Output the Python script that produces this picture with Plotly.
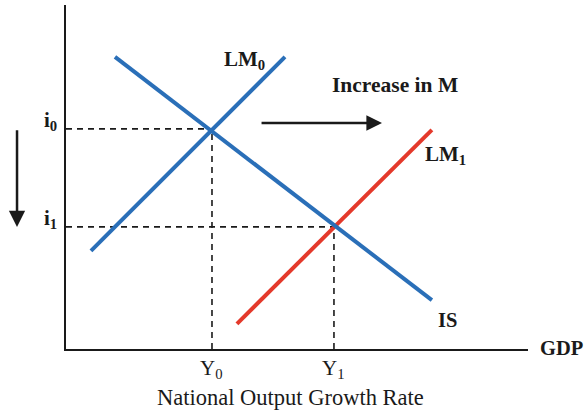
import plotly.graph_objects as go

# Curves (data units: x 0-10, y 0-10)
is_x = [1.06, 7.92]
is_y = [8.49, 1.42]
lm0_x = [0.54, 4.74]
lm0_y = [2.85, 8.49]
lm1_x = [3.70, 7.92]
lm1_y = [0.73, 6.37]

# Equilibria: output levels and interest rates
eq_out = [3.16, 5.80]          # Y0, Y1
eq_rate = [6.40, 3.55]         # i0, i1
out_labels = ["Y<sub>0</sub>", "Y<sub>1</sub>"]
rate_labels = ["<b>i<sub>0</sub></b>", "<b>i<sub>1</sub></b>"]

# Shift arrow (increase in M), in data units
shift_arrow_x = [4.20, 6.84]
shift_arrow_y = [6.57, 6.57]

BLUE = "#2A6FB8"
RED = "#E4392B"
INK = "#1A1A1A"
SERIF = "Liberation Serif, Times New Roman, serif"

fig = go.Figure()

# dashed guides
for xo, yr in zip(eq_out, eq_rate):
    fig.add_trace(go.Scatter(x=[0, xo], y=[yr, yr], mode="lines",
                             line=dict(color=INK, width=1.6, dash="6px,5px"),
                             hoverinfo="skip", showlegend=False))
    fig.add_trace(go.Scatter(x=[xo, xo], y=[0, yr], mode="lines",
                             line=dict(color=INK, width=1.6, dash="6px,5px"),
                             hoverinfo="skip", showlegend=False))

fig.add_trace(go.Scatter(x=lm1_x, y=lm1_y, mode="lines",
                         line=dict(color=RED, width=4), showlegend=False))
fig.add_trace(go.Scatter(x=lm0_x, y=lm0_y, mode="lines",
                         line=dict(color=BLUE, width=4), showlegend=False))
fig.add_trace(go.Scatter(x=is_x, y=is_y, mode="lines",
                         line=dict(color=BLUE, width=4), showlegend=False))

ann = []
def label(text, x, y, size, xanchor="left", yanchor="middle", xshift=0, yshift=0, xref="x", yref="y"):
    ann.append(dict(text=text, x=x, y=y, xref=xref, yref=yref, showarrow=False,
                    xanchor=xanchor, yanchor=yanchor, xshift=xshift, yshift=yshift,
                    font=dict(family=SERIF, size=size, color=INK)))

label("<b>LM<sub>0</sub></b>", 3.38, 8.40, 21)
label("<b>Increase in M</b>", 5.71, 7.67, 21.5)
label("<b>LM<sub>1</sub></b>", 7.73, 5.64, 21)
label("<b>IS</b>", 8.01, 0.84, 20.5)
label("<b>GDP</b>", 10, 0, 20.5, xshift=10, yshift=1)
for xo, t in zip(eq_out, out_labels):
    label(t, xo, 0, 21, xanchor="center", yshift=-20)
for yr, t in zip(eq_rate, rate_labels):
    label(t, 0, yr, 21, xanchor="right", xshift=-7, yshift=8)
label("National Output Growth Rate", 0.485, -0.14, 22.5, xanchor="center",
      xref="paper", yref="paper")

# arrows
ann.append(dict(x=shift_arrow_x[1], y=shift_arrow_y[1], ax=shift_arrow_x[0], ay=shift_arrow_y[0],
                xref="x", yref="y", axref="x", ayref="y", text="", showarrow=True,
                arrowhead=2, arrowsize=1.25, arrowwidth=2.5, arrowcolor=INK))
# falling interest rate: from i0 level down to i1 level, left of the axis
ann.append(dict(x=-0.106, y=eq_rate[1], xref="paper", yref="y",
                ax=0, ay=-(eq_rate[0] - eq_rate[1]) * 34.4, axref="pixel", ayref="pixel",
                text="", showarrow=True,
                arrowhead=2, arrowsize=1.3, arrowwidth=2.5, arrowcolor=INK))

fig.update_layout(
    width=587, height=411,
    margin=dict(l=66, r=59, t=5, b=62),
    paper_bgcolor="white", plot_bgcolor="white",
    annotations=ann,
    xaxis=dict(range=[0, 10], showgrid=False, zeroline=False, showticklabels=False,
               ticks="", showline=True, linecolor=INK, linewidth=2, fixedrange=True),
    yaxis=dict(range=[0, 10], showgrid=False, zeroline=False, showticklabels=False,
               ticks="", showline=True, linecolor=INK, linewidth=2, fixedrange=True),
)

fig.write_html("out.html", config={"displayModeBar": False},
               post_script="document.body.style.margin='0';document.body.style.overflow='hidden';")
